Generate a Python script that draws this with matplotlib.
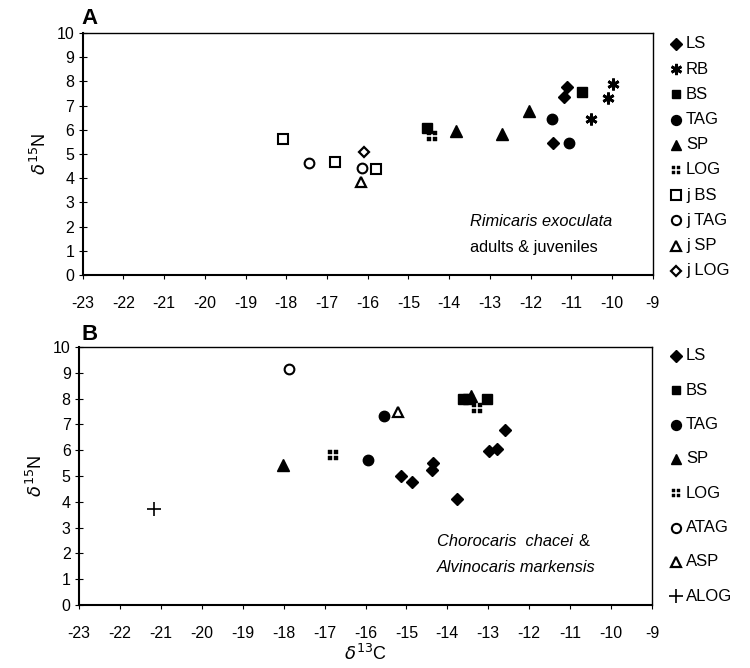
import matplotlib
matplotlib.use("Agg")
import matplotlib.pyplot as plt
from matplotlib.path import Path
import numpy as np

plt.rcParams['font.family'] = ['Liberation Sans', 'DejaVu Sans']

# ---------------- data panel A ----------------
a_LS_x = [-11.45, -11.1, -11.17]
a_LS_y = [5.47, 7.76, 7.34]
a_RB_x = [-10.51, -10.09, -9.97]
a_RB_y = [6.43, 7.33, 7.89]
a_BS_x = [-14.55, -10.74]
a_BS_y = [6.09, 7.55]
a_TAG_x = [-11.47, -11.06]
a_TAG_y = [6.46, 5.47]
a_SP_x = [-13.84, -12.7, -12.04]
a_SP_y = [5.96, 5.83, 6.79]
a_LOG_x = [-14.42]
a_LOG_y = [5.74]
a_jBS_x = [-18.07, -16.8, -15.8]
a_jBS_y = [5.61, 4.67, 4.39]
a_jTAG_x = [-17.44, -16.14]
a_jTAG_y = [4.62, 4.43]
a_jSP_x = [-16.17]
a_jSP_y = [3.83]
a_jLOG_x = [-16.1]
a_jLOG_y = [5.08]
a_labels = ["LS", "RB", "BS", "TAG", "SP", "LOG", "j BS", "j TAG", "j SP", "j LOG"]

# ---------------- data panel B ----------------
b_LS_x = [-15.14, -14.86, -14.36, -14.38, -13.76, -12.98, -12.78, -12.58]
b_LS_y = [5.0, 4.78, 5.52, 5.22, 4.1, 5.98, 6.06, 6.78]
b_BS_x = [-13.62, -13.5, -13.02]
b_BS_y = [7.97, 7.97, 7.97]
b_TAG_x = [-15.56, -15.93]
b_TAG_y = [7.33, 5.61]
b_SP_x = [-18.02, -13.43]
b_SP_y = [5.43, 8.1]
b_LOG_x = [-16.79, -13.27]
b_LOG_y = [5.83, 7.65]
b_ATAG_x = [-17.88]
b_ATAG_y = [9.16]
b_ASP_x = [-15.21]
b_ASP_y = [7.49]
b_ALOG_x = [-21.16]
b_ALOG_y = [3.71]
b_labels = ["LS", "BS", "TAG", "SP", "LOG", "ATAG", "ASP", "ALOG"]

x_ticks = list(range(-23, -8))
y_ticks = list(range(0, 11))

# custom "four squares" marker
def four_squares():
    verts, codes = [], []
    g = 0.18
    for cx, cy in [(-1, -1), (-1, 1), (1, -1), (1, 1)]:
        x0 = g if cx > 0 else -1
        x1 = 1 if cx > 0 else -g
        y0 = g if cy > 0 else -1
        y1 = 1 if cy > 0 else -g
        verts += [(x0, y0), (x1, y0), (x1, y1), (x0, y1), (x0, y0)]
        codes += [Path.MOVETO, Path.LINETO, Path.LINETO, Path.LINETO, Path.CLOSEPOLY]
    return Path(verts, codes)

LOGM = four_squares()

styles = {
    "LS": dict(marker='D', ms=6.0, mfc='black', mec='black', mew=1),
    "RB": dict(marker=(6, 2, 0), ms=8.5, mfc='black', mec='black', mew=2.0),
    "BS": dict(marker='s', ms=6.5, mfc='black', mec='black', mew=1),
    "TAG": dict(marker='o', ms=7.5, mfc='black', mec='black', mew=1),
    "SP": dict(marker='^', ms=8, mfc='black', mec='black', mew=1),
    "LOG": dict(marker=LOGM, ms=6.5, mfc='black', mec='black', mew=0.3),
    "j BS": dict(marker='s', ms=7, mfc='white', mec='black', mew=1.5),
    "j TAG": dict(marker='o', ms=7, mfc='white', mec='black', mew=1.5),
    "j SP": dict(marker='^', ms=7, mfc='white', mec='black', mew=1.6),
    "j LOG": dict(marker='D', ms=5.5, mfc='white', mec='black', mew=1.6),
    "ATAG": dict(marker='o', ms=7, mfc='white', mec='black', mew=1.5),
    "ASP": dict(marker='^', ms=7, mfc='white', mec='black', mew=1.6),
    "ALOG": dict(marker='+', ms=10, mfc='black', mec='black', mew=1.2),
}

W, H = 750, 668
fig = plt.figure(figsize=(7.5, 6.68), dpi=100)

def axes_px(l, t, r, b):
    return fig.add_axes([l / W, 1 - b / H, (r - l) / W, (b - t) / H])

axA = axes_px(82.7, 33, 652.7, 275)
axB = axes_px(79, 347, 652, 605)

def style_ax(ax):
    ax.set_xlim(-23, -9)
    ax.set_ylim(0, 10)
    ax.set_xticks(x_ticks)
    ax.set_yticks(y_ticks)
    ax.set_xticklabels([str(v) for v in x_ticks])
    ax.tick_params(axis='x', direction='out', length=3, width=0.8, labelsize=11.5, pad=12)
    ax.tick_params(axis='y', direction='inout', length=6, width=0.8, labelsize=11.5, pad=3)
    for s in ax.spines.values():
        s.set_linewidth(1.0)
    ax.spines['left'].set_linewidth(1.5)
    ax.spines['bottom'].set_linewidth(1.5)
    ax.set_ylabel(r'$\delta^{15}$N', fontsize=13, labelpad=5)

style_ax(axA)
style_ax(axB)

seriesA = {
    "LS": (a_LS_x, a_LS_y), "RB": (a_RB_x, a_RB_y), "BS": (a_BS_x, a_BS_y),
    "TAG": (a_TAG_x, a_TAG_y), "SP": (a_SP_x, a_SP_y), "LOG": (a_LOG_x, a_LOG_y),
    "j BS": (a_jBS_x, a_jBS_y), "j TAG": (a_jTAG_x, a_jTAG_y),
    "j SP": (a_jSP_x, a_jSP_y), "j LOG": (a_jLOG_x, a_jLOG_y),
}
seriesB = {
    "LS": (b_LS_x, b_LS_y), "BS": (b_BS_x, b_BS_y), "TAG": (b_TAG_x, b_TAG_y),
    "SP": (b_SP_x, b_SP_y), "LOG": (b_LOG_x, b_LOG_y), "ATAG": (b_ATAG_x, b_ATAG_y),
    "ASP": (b_ASP_x, b_ASP_y), "ALOG": (b_ALOG_x, b_ALOG_y),
}

for name, (xs, ys) in seriesA.items():
    axA.plot(xs, ys, linestyle='none', clip_on=False, **styles[name])
for name, (xs, ys) in seriesB.items():
    axB.plot(xs, ys, linestyle='none', clip_on=False, **styles[name])

# legends (manual)
def legend(labels, y0, dy):
    for i, lab in enumerate(labels):
        y = 1 - (y0 + i * dy) / H
        st = dict(styles[lab])
        st['ms'] = st['ms'] * 0.95
        fig.lines.append(plt.Line2D([676 / W], [y], transform=fig.transFigure,
                                    linestyle='none', **st))
        fig.text(686 / W, y, lab, fontsize=12, va='center', ha='left')

legend(a_labels, 44, 25.2)
legend(b_labels, 356, 34.3)

# panel letters
fig.text(90 / W, 1 - 18 / H, "A", fontsize=16, fontweight='bold', va='center', ha='center')
fig.text(90 / W, 1 - 335 / H, "B", fontsize=16, fontweight='bold', va='center', ha='center')

# annotations
fs_ann = 11.8
fig.text(470 / W, 1 - 222 / H, "Rimicaris exoculata", fontsize=fs_ann, style='italic', va='center')
fig.text(470 / W, 1 - 247 / H, "adults & juveniles", fontsize=fs_ann, va='center')
t1 = fig.text(437 / W, 1 - 541 / H, "Chorocaris  chacei", fontsize=fs_ann, style='italic', va='center')
fig.text(437 / W, 1 - 568 / H, "Alvinocaris markensis", fontsize=fs_ann, style='italic', va='center')

axB.set_xlabel(r'$\delta^{13}$C', fontsize=13, labelpad=2)

renderer = fig.canvas.get_renderer()
bb = t1.get_window_extent(renderer=renderer)
fig.text((bb.x1 + 5) / W, 1 - 541 / H, "&", fontsize=fs_ann, va='center')

fig.savefig("out.png", dpi=100)
